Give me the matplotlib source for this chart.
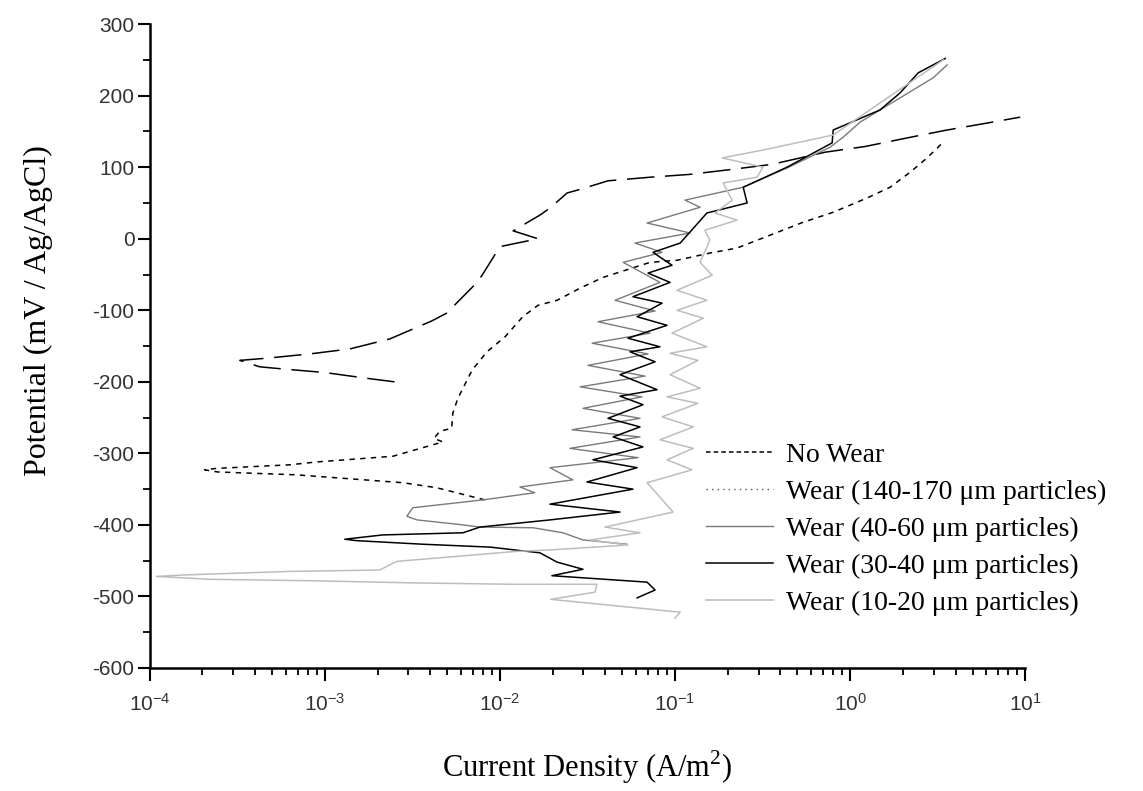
import numpy as np
import matplotlib.pyplot as plt
from matplotlib.lines import Line2D
from matplotlib.ticker import MultipleLocator, LogLocator, NullFormatter

plt.rcParams['font.family'] = ['Liberation Sans', 'DejaVu Sans']
plt.rcParams['mathtext.fontset'] = 'custom'
plt.rcParams['mathtext.rm'] = 'Liberation Sans'
plt.rcParams['mathtext.it'] = 'Liberation Sans:italic'
plt.rcParams['axes.unicode_minus'] = False

# current density (A/m^2) and potential (mV) for each curve
no_wear_i = [2.5e-3, 1.73e-3, 1.0e-3, 5.75e-4, 4.25e-4, 3.27e-4, 4.64e-4, 8.2e-4, 1.39e-3,
             2.35e-3, 4.07e-3, 4.96e-3, 7.0e-3, 7.86e-3, 0.0100, 0.0165, 0.0119, 0.0144,
             0.0169, 0.0193, 0.0242, 0.0287, 0.0414, 0.072, 0.122, 0.212, 0.358, 0.72,
             1.22, 2.12, 3.58, 6.15, 9.36]
no_wear_e = [-200, -195, -187, -182, -179, -170, -167, -161, -154, -140, -115, -104, -67,
             -52, -11, 0, 11, 23, 33, 43, 64, 69, 81, 86, 90, 97, 104, 121, 129, 141, 152,
             162, 170]

w140_i = [8.2e-3, 4.35e-3, 2.79e-3, 6.88e-4, 2.45e-4, 2.06e-4, 2.4e-4, 6.3e-4, 8.97e-4,
          2.45e-3, 3.63e-3, 4.72e-3, 4.2e-3, 4.54e-3, 5.3e-3, 5.38e-3, 5.75e-3, 6.15e-3,
          6.92e-3, 7.69e-3, 8.43e-3, 0.0107, 0.0135, 0.0165, 0.0212, 0.0287, 0.0388,
          0.072, 0.103, 0.158, 0.226, 0.349, 0.538, 0.80, 1.25, 1.69, 2.2, 2.75, 3.4]
w140_e = [-365, -348, -341, -330, -326, -323, -321, -316, -312, -304, -292, -284, -279,
          -269, -265, -244, -223, -209, -184, -170, -158, -137, -109, -93, -86, -69, -54,
          -33, -30, -20, -13, 5, 23, 37, 57, 72, 93, 113, 135]

w40_i = [0.0532, 0.0298, 0.0229, 0.0155, 0.00769, 0.00568, 0.00336, 0.00294, 0.00318,
         0.008, 0.0158, 0.013, 0.0261, 0.0193, 0.0615, 0.0251, 0.0631, 0.0258, 0.0631,
         0.0298, 0.0648, 0.0287, 0.0674, 0.0318, 0.0701, 0.0336, 0.072, 0.0363, 0.0769,
         0.0454, 0.082, 0.0505, 0.0843, 0.059, 0.122, 0.0692, 0.139, 0.114, 0.245, 0.436,
         0.769, 0.912, 1.14, 1.48, 2.29, 2.98, 3.58]
w40_e = [-427, -421, -411, -404, -403, -399, -393, -388, -376, -365, -355, -347, -337,
         -320, -306, -293, -277, -267, -251, -237, -221, -207, -192, -177, -161, -146,
         -132, -116, -101, -86, -61, -33, -19, -6, 8, 22, 44, 54, 72, 99, 128, 142, 163,
         180, 208, 225, 243]

w30_i = [0.0607, 0.0769, 0.0692, 0.0198, 0.0298, 0.0212, 0.0169, 0.00877, 0.00363,
         0.00152, 0.0013, 0.00214, 0.00615, 0.00769, 0.0193, 0.0485, 0.0193, 0.0575,
         0.0314, 0.0607, 0.034, 0.0656, 0.0443, 0.0631, 0.0414, 0.0656, 0.0485, 0.0789,
         0.0485, 0.0769, 0.0553, 0.082, 0.0538, 0.09, 0.0607, 0.0843, 0.0575, 0.0936,
         0.0701, 0.0961, 0.0748, 0.107, 0.152, 0.258, 0.245, 0.436, 0.789, 0.80, 1.48,
         1.93, 2.45, 3.49]
w30_e = [-502, -491, -480, -471, -462, -452, -439, -431, -427, -422, -420, -414, -411,
         -403, -393, -382, -371, -350, -340, -320, -309, -291, -277, -263, -251, -232,
         -220, -211, -190, -172, -158, -151, -139, -121, -109, -90, -81, -61, -48, -37,
         -19, -6, 36, 50, 72, 100, 134, 152, 180, 204, 232, 252]

w10_i = [0.1, 0.107, 0.0195, 0.0349, 0.0358, 0.0193, 0.0119, 0.00318, 0.00082, 0.00022,
         0.000109, 0.000155, 0.00063, 0.00206, 0.00257, 0.0124, 0.0193, 0.0538, 0.0327,
         0.0631, 0.0398, 0.0975, 0.0692, 0.125, 0.09, 0.127, 0.082, 0.127, 0.0843, 0.135,
         0.09, 0.139, 0.0936, 0.135, 0.0936, 0.152, 0.0961, 0.145, 0.1026, 0.152, 0.1026,
         0.163, 0.139, 0.158, 0.148, 0.226, 0.169, 0.212, 0.188, 0.294, 0.318, 0.186,
         0.318, 0.80, 2.01, 3.4]
w10_e = [-530, -522, -504, -494, -483, -483, -483, -481, -478, -476, -472, -470, -465,
         -463, -451, -437, -435, -428, -421, -411, -403, -382, -341, -323, -309, -293,
         -281, -263, -249, -230, -221, -209, -190, -170, -160, -151, -132, -111, -100,
         -86, -72, -51, -33, -2, 12, 26, 36, 54, 78, 86, 100, 113, 124, 145, 212, 250]

labels = ['No Wear', 'Wear (140-170 \u03bcm particles)', 'Wear (40-60 \u03bcm particles)',
          'Wear (30-40 \u03bcm particles)', 'Wear (10-20 \u03bcm particles)']

fig = plt.figure(figsize=(11.43, 7.91), dpi=100)
ax = fig.add_axes([0.131, 0.1555, 0.766, 0.814])

ax.plot(no_wear_i, no_wear_e, color='black', lw=1.1, dashes=(18, 7))
ax.plot(w140_i, w140_e, color='black', lw=1.1, dashes=(3.5, 3.5))
ax.plot(w40_i, w40_e, color='#7a7a7a', lw=1.0)
ax.plot(w30_i, w30_e, color='black', lw=1.1)
ax.plot(w10_i, w10_e, color='#bdbdbd', lw=1.1)

ax.set_xscale('log')
ax.set_xlim(1e-4, 10)
ax.set_ylim(-600, 300)
ax.yaxis.set_major_locator(MultipleLocator(100))
ax.yaxis.set_minor_locator(MultipleLocator(50))
ax.xaxis.set_minor_locator(LogLocator(base=10, subs=np.arange(2, 10)))
ax.xaxis.set_minor_formatter(NullFormatter())

for s in ['top', 'right']:
    ax.spines[s].set_visible(False)
for s in ['left', 'bottom']:
    ax.spines[s].set_linewidth(1.8)

ax.tick_params(which='major', direction='out', length=9, width=1.5, labelsize=15,
               labelcolor='#333333')
ax.tick_params(which='minor', direction='out', length=5, width=1.3)
ax.tick_params(axis='y', which='major', pad=2)
ax.tick_params(axis='x', which='major', pad=9)

ax.set_ylabel('Potential (mV / Ag/AgCl)', family='Liberation Serif', fontsize=23, labelpad=12)
ax.yaxis.set_label_coords(-0.11, 0.555)
ax.set_xlabel('Current Density (A/m$^{\\mathregular{2}}$)', family='Liberation Serif',
              fontsize=22, labelpad=24)

handles = [
    Line2D([], [], color='black', lw=1.1, dashes=(3, 2)),
    Line2D([], [], color='#555555', lw=1.0, dashes=(1, 3)),
    Line2D([], [], color='#7a7a7a', lw=1.0),
    Line2D([], [], color='black', lw=1.1),
    Line2D([], [], color='#bdbdbd', lw=1.2),
]
fig.legend(handles, labels, loc='upper left', bbox_to_anchor=(0.618, 0.441), frameon=False,
           prop={'family': 'Liberation Serif', 'size': 20}, handlelength=2.4,
           handletextpad=0.45, labelspacing=0.42, borderpad=0, borderaxespad=0)

fig.savefig('out.png', dpi=100)
